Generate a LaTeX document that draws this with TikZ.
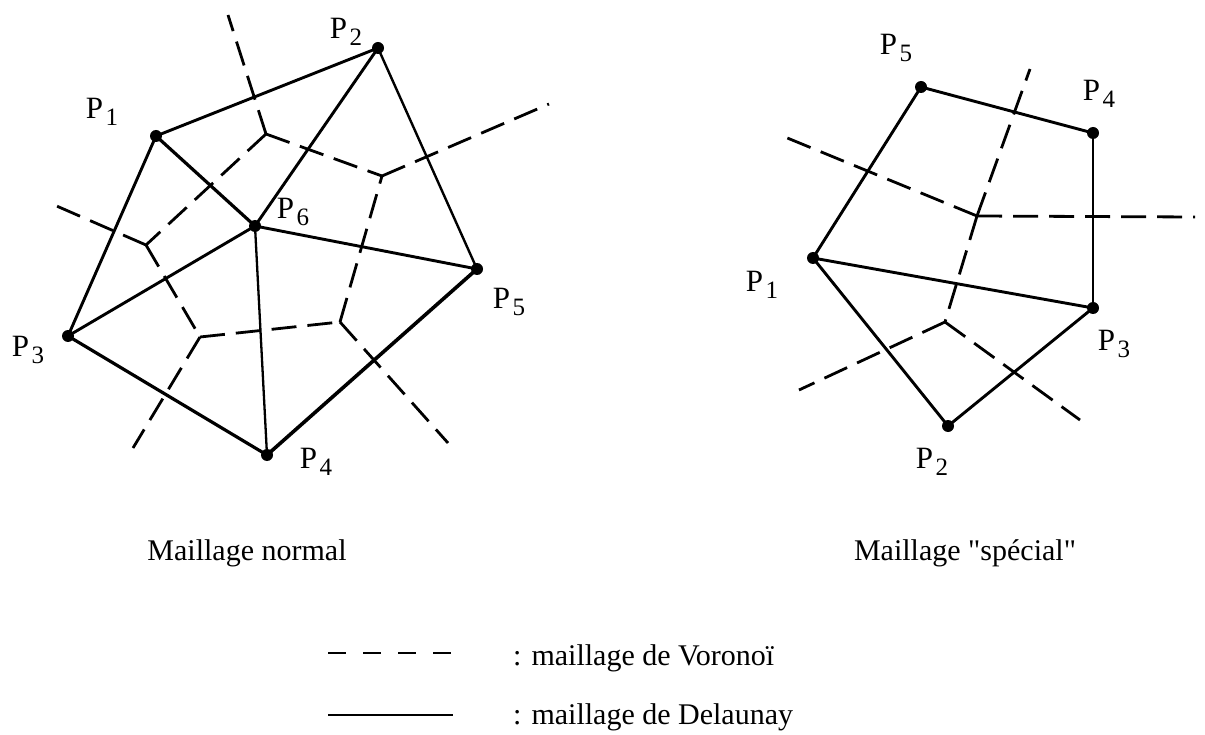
\documentclass[tikz,border=0pt]{standalone}
\usepackage{fontspec}
\setmainfont{Liberation Serif}[Ligatures=TeXOff]
\newcommand\Plab[1]{P\hspace{2.5pt}\raisebox{-7pt}{\fontsize{25}{25}\selectfont #1}}
\begin{document}
\begin{tikzpicture}[x=1pt,y=-1pt,
  pt/.style={circle,fill=black,inner sep=0pt,minimum size=12pt},
  del/.style={line width=2.9pt,line join=round,line cap=round},
  vor/.style={line width=2.8pt,dash pattern=on 25pt off 11pt},
  lbl/.style={font=\fontsize{31}{31}\selectfont,inner sep=0pt},
  captxt/.style={font=\fontsize{30}{36}\selectfont,inner sep=0pt},
  legtxt/.style={font=\fontsize{30}{36}\selectfont,inner sep=0pt,anchor=base west}]
\path[use as bounding box,fill=white] (0,0) rectangle (1205,735);

% ---------- left: normal mesh ----------
\node[pt] (L1) at (156,136) {};
\node[pt] (L2) at (378,48) {};
\node[pt] (L3) at (68,336) {};
\node[pt] (L4) at (267,455) {};
\node[pt] (L5) at (477,269) {};
\node[pt] (L6) at (255,226) {};

\node[lbl] (tL1) at (102,112) {\Plab{1}};
\node[lbl] (tL2) at (346,32) {\Plab{2}};
\node[lbl] (tL3) at (28,350) {\Plab{3}};
\node[lbl] (tL4) at (316,462) {\Plab{4}};
\node[lbl] (tL5) at (509,302) {\Plab{5}};
\node[lbl] (tL6) at (293,212) {\Plab{6}};

\draw[del] (L1.center) -- (L2.center);
\draw[del,line width=2.4pt] (L2.center) -- (L5.center);
\draw[del] (L1.center) -- (L3.center);
\draw[del,line width=3.2pt] (L1.center) -- (L6.center);
\draw[del] (L2.center) -- (L6.center);
\draw[del] (L6.center) -- (L5.center);
\draw[del] (L3.center) -- (L6.center);
\draw[del,line width=3.2pt] (L3.center) -- (L4.center);
\draw[del,line width=2.3pt] (L6.center) -- (L4.center);
\draw[del,line width=3.6pt] (L4.center) -- (L5.center);

\coordinate (V1) at (266,134);
\coordinate (V2) at (382,176);
\coordinate (V3) at (146,245);
\coordinate (V4) at (200,337);
\coordinate (V5) at (340,322);
\coordinate (E1) at (228,15);
\coordinate (E2) at (549,104);
\coordinate (E3) at (52,204);
\coordinate (E4) at (133,448);
\coordinate (E5) at (448,443);

\draw[vor] (V1) -- (E1);
\draw[vor] (V1) -- (V2);
\draw[vor] (V2) -- (E2);
\draw[vor] (V1) -- (V3);
\draw[vor] (V3) -- (E3);
\draw[vor] (V3) -- (V4);
\draw[vor] (V4) -- (E4);
\draw[vor] (V4) -- (V5);
\draw[vor] (V5) -- (V2);
\draw[vor] (V5) -- (E5);

% ---------- right: special mesh ----------
\node[pt] (R1) at (813,258) {};
\node[pt] (R2) at (948,426) {};
\node[pt] (R3) at (1093,308) {};
\node[pt] (R4) at (1093,133) {};
\node[pt] (R5) at (921,87) {};

\node[lbl] (tR1) at (762,285) {\Plab{1}};
\node[lbl] (tR2) at (932,462) {\Plab{2}};
\node[lbl] (tR3) at (1114,344) {\Plab{3}};
\node[lbl] (tR4) at (1099,94) {\Plab{4}};
\node[lbl] (tR5) at (896,48) {\Plab{5}};

\draw[del] (R5.center) -- (R4.center);
\draw[del,line width=2.5pt] (R4.center) -- (R3.center);
\draw[del] (R1.center) -- (R5.center);
\draw[del] (R1.center) -- (R3.center);
\draw[del] (R1.center) -- (R2.center);
\draw[del] (R2.center) -- (R3.center);

\coordinate (A) at (977,216);
\coordinate (B) at (945,322);
\coordinate (F1) at (780,135);
\coordinate (F2) at (1195,217);
\coordinate (F3) at (1030,69);
\coordinate (F4) at (799,390);
\coordinate (F5) at (1080,420);

\draw[vor] (A) -- (F1);
\draw[vor] (A) -- (F2);
\draw[vor] (A) -- (F3);
\draw[vor] (A) -- (B);
\draw[vor] (B) -- (F4);
\draw[vor] (B) -- (F5);

% ---------- captions ----------
\node[captxt] (c1) at (247,553) {Maillage normal};
\node[captxt] (c2) at (965,553) {Maillage "spécial"};

% ---------- legend ----------
\coordinate (la) at (328,653);
\coordinate (lb) at (452,653);
\coordinate (lc) at (328,715);
\coordinate (ld) at (453,715);
\draw[line width=2.6pt,dash pattern=on 18pt off 17pt] (la) -- (lb);
\draw[line width=2.6pt] (lc) -- (ld);
\node[legtxt] (t1) at (513,665) {: maillage de Voronoï};
\node[legtxt] (t2) at (513,724) {: maillage de Delaunay};
\end{tikzpicture}
\end{document}
